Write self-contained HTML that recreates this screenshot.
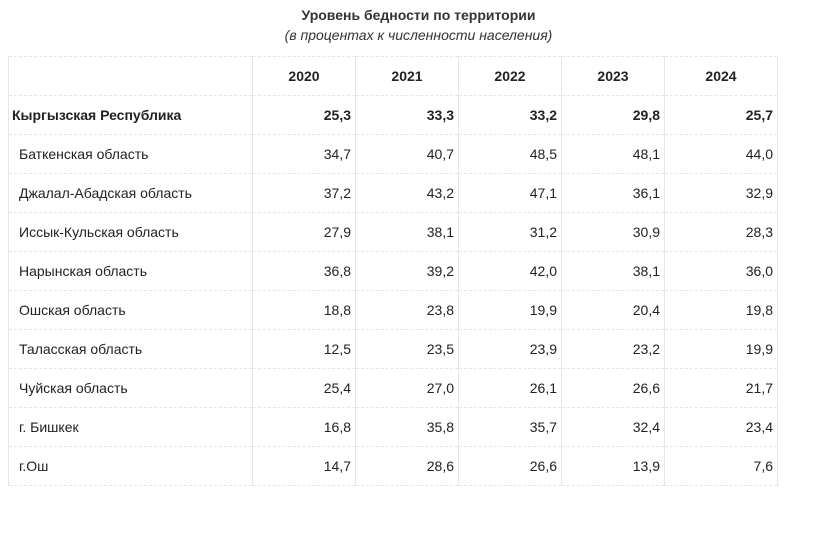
<!DOCTYPE html>
<html><head><meta charset="utf-8"><style>
body{margin:0;width:837px;height:534px;background:#fff;font-family:"Liberation Sans",Arial,sans-serif;color:#222;position:relative}
.t{position:absolute;left:0;width:837px;text-align:center;top:7px;font-size:14px;font-weight:bold;color:#333}
.s{position:absolute;left:0;width:837px;text-align:center;top:27px;font-size:14px;font-style:italic;color:#333}
table{position:absolute;left:8px;top:56px;border-collapse:collapse;font-size:14px}
td,th{height:38px;padding:0 4px;border:1px solid #e6e6e6;border-top:1px dashed #e6e6e6;border-bottom:1px dashed #e6e6e6}
th{text-align:center;font-weight:bold}
td{text-align:right}
td.n{text-align:left;padding-left:10px}
tr.b td{font-weight:bold}
tr.b td.n{padding-left:3px}
</style></head><body>
<div class="t">Уровень бедности по территории</div>
<div class="s">(в процентах к численности населения)</div>
<table>
<colgroup><col style="width:244px"><col style="width:103px"><col style="width:103px"><col style="width:103px"><col style="width:103px"><col style="width:113px"></colgroup>
<tr><th></th><th>2020</th><th>2021</th><th>2022</th><th>2023</th><th>2024</th></tr>
<tr class="b"><td class="n">Кыргызская Республика</td><td>25,3</td><td>33,3</td><td>33,2</td><td>29,8</td><td>25,7</td></tr>
<tr><td class="n">Баткенская область</td><td>34,7</td><td>40,7</td><td>48,5</td><td>48,1</td><td>44,0</td></tr>
<tr><td class="n">Джалал-Абадская область</td><td>37,2</td><td>43,2</td><td>47,1</td><td>36,1</td><td>32,9</td></tr>
<tr><td class="n">Иссык-Кульская область</td><td>27,9</td><td>38,1</td><td>31,2</td><td>30,9</td><td>28,3</td></tr>
<tr><td class="n">Нарынская область</td><td>36,8</td><td>39,2</td><td>42,0</td><td>38,1</td><td>36,0</td></tr>
<tr><td class="n">Ошская область</td><td>18,8</td><td>23,8</td><td>19,9</td><td>20,4</td><td>19,8</td></tr>
<tr><td class="n">Таласская область</td><td>12,5</td><td>23,5</td><td>23,9</td><td>23,2</td><td>19,9</td></tr>
<tr><td class="n">Чуйская область</td><td>25,4</td><td>27,0</td><td>26,1</td><td>26,6</td><td>21,7</td></tr>
<tr><td class="n">г. Бишкек</td><td>16,8</td><td>35,8</td><td>35,7</td><td>32,4</td><td>23,4</td></tr>
<tr><td class="n">г.Ош</td><td>14,7</td><td>28,6</td><td>26,6</td><td>13,9</td><td>7,6</td></tr>
</table>
</body></html>
